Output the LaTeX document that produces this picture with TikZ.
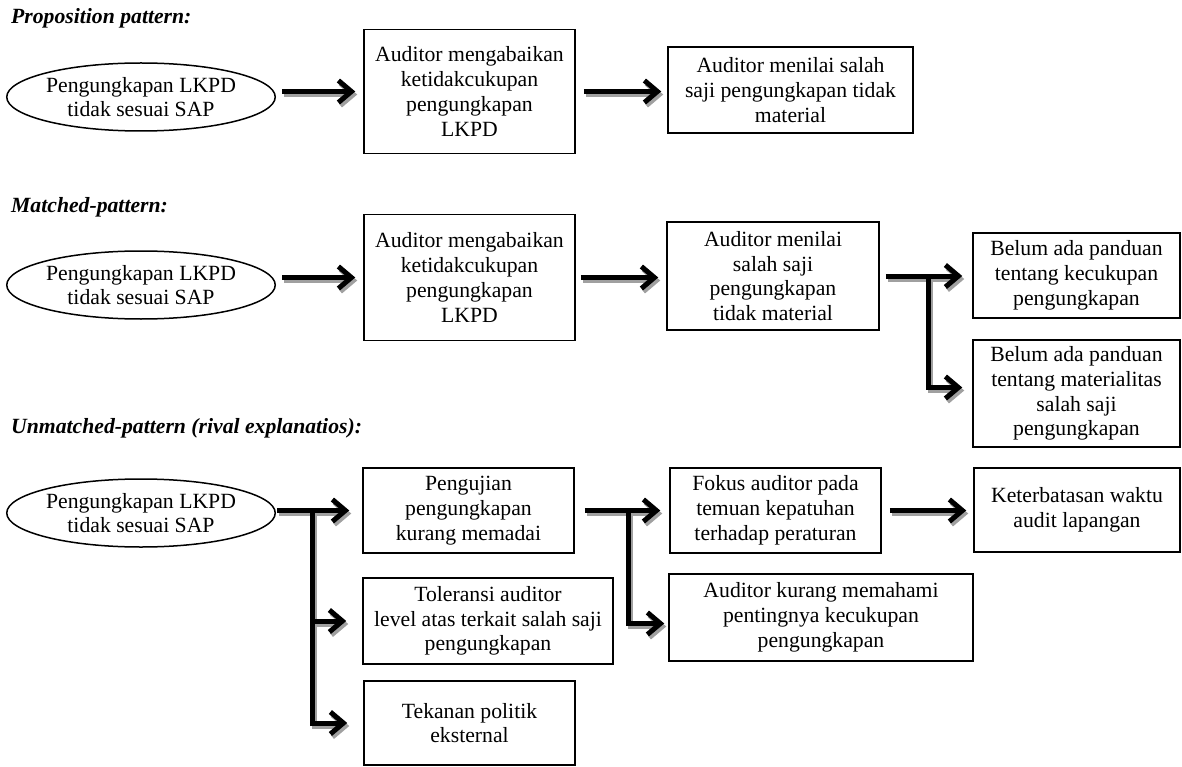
\documentclass[tikz,border=0pt]{standalone}
\usepackage{fontspec}
\setmainfont{Liberation Serif}
\usetikzlibrary{shapes.geometric,arrows.meta}
\newcommand\boxfont{\fontsize{21.7pt}{24.8pt}\selectfont}
\newcommand\ttlfont{\fontsize{21.7pt}{24.6pt}\selectfont\bfseries\itshape}
\definecolor{shadowgray}{HTML}{A0A0A0}
\newcommand\arrowpaths[1]{%
  % row 1
  \draw[#1] ([xshift=6pt]e1.east |- b11.west) -- ([xshift=-8pt]b11.west);
  \draw[#1] ([xshift=8pt]b11.east) -- ([xshift=-6pt]b12.west |- b11.east);
  % row 2
  \draw[#1] ([xshift=6pt]e2.east |- b21.west) -- ([xshift=-8pt]b21.west);
  \draw[#1] ([xshift=5pt]b21.east) -- ([xshift=-8pt]b22.west |- b21.east);
  \draw[#1] ([xshift=6pt]b22.east) -- ([xshift=-10pt]b23.west |- b22.east);
  \draw[#1] (j2) |- ([xshift=-10pt,yshift=6pt]b24.west);
  % row 3
  \draw[#1] ([xshift=1pt]e3.east |- b31.west) -- ([xshift=-13pt]b31.west);
  \draw[#1] (j3) |- ([xshift=-16pt]b32.west);
  \draw[#1] (j3) |- ([xshift=-16pt]b33.west);
  \draw[#1] ([xshift=10pt]b31.east) -- ([xshift=-9pt]b34.west |- b31.east);
  \draw[#1] (j4) |- ([xshift=-4pt,yshift=-6pt]b35.west);
  \draw[#1] ([xshift=8pt]b34.east) -- ([xshift=-7pt]b36.west |- b34.east);
}
\begin{document}
\begin{tikzpicture}[x=1pt,y=-1pt,
  box/.style={draw, line width=1.5pt, align=center, inner sep=0pt, font=\boxfont},
  oval/.style={ellipse, draw, line width=1.5pt, align=center, inner sep=0pt,
    minimum width=260pt, minimum height=68pt, font=\boxfont},
  ttl/.style={anchor=base west, inner sep=0pt, font=\ttlfont},
  arr/.style={line width=5pt, black, -{Straight Barb[length=13pt,width=22pt]}},
  arrsh/.style={line width=5pt, shadowgray, -{Straight Barb[length=13pt,width=22pt]},
    transform canvas={shift={(2pt,-3pt)}}}]
\useasboundingbox (0,0) rectangle (1182,767);

% ---------- Row 1
\node[ttl] (t1) at (11,24) {Proposition pattern:};
\node[oval] (e1) at (141,97) {Pengungkapan LKPD\\tidak sesuai SAP};
\node[box, minimum width=211pt, minimum height=124pt] (b11) at (469.5,91.5)
  {Auditor mengabaikan\\ketidakcukupan\\pengungkapan\\LKPD};
\node[box, minimum width=245pt, minimum height=86pt] (b12) at (790.5,90)
  {Auditor menilai salah\\saji pengungkapan tidak\\material};

% ---------- Row 2
\node[ttl] (t2) at (11,213) {Matched-pattern:};
\node[oval] (e2) at (141,285) {Pengungkapan LKPD\\tidak sesuai SAP};
\node[box, minimum width=211pt, minimum height=126pt] (b21) at (469.5,277.5)
  {Auditor mengabaikan\\ketidakcukupan\\pengungkapan\\LKPD};
\node[box, minimum width=212pt, minimum height=108pt] (b22) at (773,276)
  {Auditor menilai\\salah saji\\pengungkapan\\tidak material};
\node[box, minimum width=207pt, minimum height=85pt] (b23) at (1076.5,275.5)
  {Belum ada panduan\\tentang kecukupan\\pengungkapan};
\node[box, minimum width=207pt, minimum height=107pt] (b24) at (1076.5,393.5)
  {Belum ada panduan\\tentang materialitas\\salah saji\\pengungkapan};
\coordinate (j2) at (928,276);

% ---------- Row 3
\node[ttl] (t3) at (11,433) {Unmatched-pattern (rival explanatios):};
\node[oval] (e3) at (141,513) {Pengungkapan LKPD\\tidak sesuai SAP};
\node[box, minimum width=211pt, minimum height=85pt] (b31) at (468.5,510.5)
  {Pengujian\\pengungkapan\\kurang memadai};
\node[box, minimum width=250pt, minimum height=86pt] (b32) at (488,621)
  {Toleransi auditor\\level atas terkait salah saji\\pengungkapan};
\node[box, minimum width=211pt, minimum height=84pt] (b33) at (469.5,723)
  {Tekanan politik\\eksternal};
\node[box, minimum width=211pt, minimum height=85pt] (b34) at (775.5,510.5)
  {Fokus auditor pada\\temuan kepatuhan\\terhadap peraturan};
\node[box, minimum width=304pt, minimum height=87pt] (b35) at (821,617.5)
  {Auditor kurang memahami\\pentingnya kecukupan\\pengungkapan};
\node[box, minimum width=206pt, minimum height=84pt] (b36) at (1077,510)
  {Keterbatasan waktu\\audit lapangan};
\coordinate (j3) at (312,510.5);
\coordinate (j4) at (628,510.5);

% ---------- Arrows (shadows first, then black)
\arrowpaths{arrsh}
\arrowpaths{arr}
\end{tikzpicture}
\end{document}
